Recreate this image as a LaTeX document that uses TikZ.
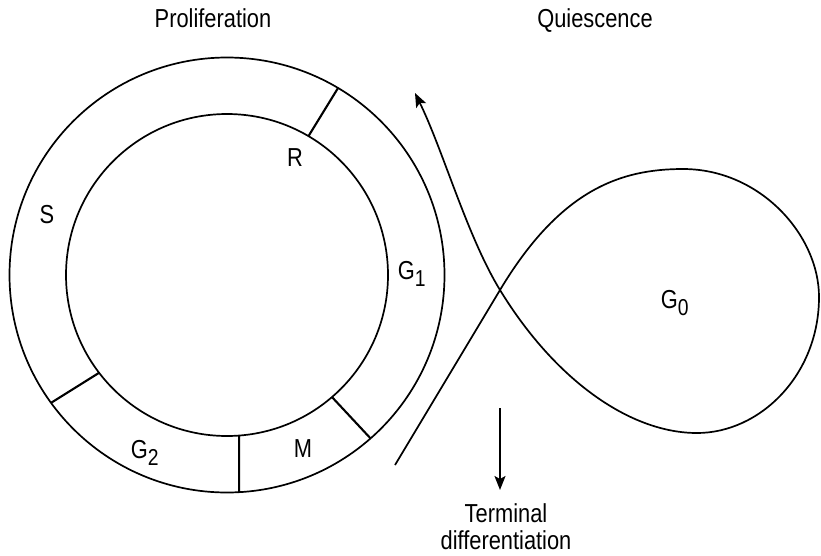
\documentclass[tikz,border=0pt]{standalone}
\usepackage{fontspec}
\setmainfont{Liberation Sans}[FakeStretch=0.84]
\usetikzlibrary{arrows.meta,calc}
\newcommand{\mysub}[1]{\raisebox{-7pt}{\fontsize{23}{23}\selectfont #1}}
\begin{document}
\begin{tikzpicture}[x=1pt,y=-1pt, line width=1.7pt,
  lbl/.style={font=\fontsize{26}{29}\selectfont, inner sep=0pt},
  divider/.style={line width=2.1pt},
  arr/.style={-{Stealth[length=14pt,width=11pt,inset=3pt]}}]
\useasboundingbox (0,0) rectangle (821,555);
\coordinate (c) at (227,275);
% cycle rings
\draw (c) circle[radius=217.5];
\draw (c) circle[radius=161];
% phase dividers
\draw[divider] ($(c)+(-59.6:161)$) -- ($(c)+(-59.3:217.5)$);
\draw[divider] ($(c)+(-217.4:161)$) -- ($(c)+(-216:217.5)$);
\draw[divider] ($(c)+(85.7:161)$) -- ($(c)+(86.8:217.5)$);
\draw[divider] ($(c)+(49.3:161)$) -- ($(c)+(48.7:217.5)$);
% quiescence loop
\coordinate (start) at (395,465);
\coordinate (x) at (500,290);
\coordinate (top) at (683,169);
\coordinate (right) at (819,297);
\coordinate (bot) at (697,433);
\coordinate (tip) at (415,93);
\draw[arr] (start) -- (x) .. controls (560,190) and (620,169) .. (top)
  .. controls (760,169) and (819,235) .. (right)
  .. controls (819,375) and (760,433) .. (bot)
  .. controls (630,433) and (555,380) .. (x)
  .. controls (467,236) and (443,150) .. (tip);
% terminal differentiation arrow
\coordinate (dtop) at (500,408);
\coordinate (dtip) at (500,490);
\draw[arr] (dtop) -- (dtip);
% labels
\node[lbl, anchor=base] (prolif) at (213,27) {Proliferation};
\node[lbl, anchor=base] (quies) at (595,27) {Quiescence};
\node[lbl, anchor=base] (R) at (295,166) {R};
\node[lbl, anchor=base] (S) at (47,223) {S};
\node[lbl, anchor=base west] (G1) at (397,279) {G\mysub{1}};
\node[lbl, anchor=base west] (G2) at (130,458) {G\mysub{2}};
\node[lbl, anchor=base] (M) at (303,457) {M};
\node[lbl, anchor=base west] (G0) at (660,308) {G\mysub{0}};
\node[lbl, anchor=base] (term) at (506,522) {Terminal};
\node[lbl, anchor=base] (diff) at (506,549) {differentiation};
\end{tikzpicture}
\end{document}
